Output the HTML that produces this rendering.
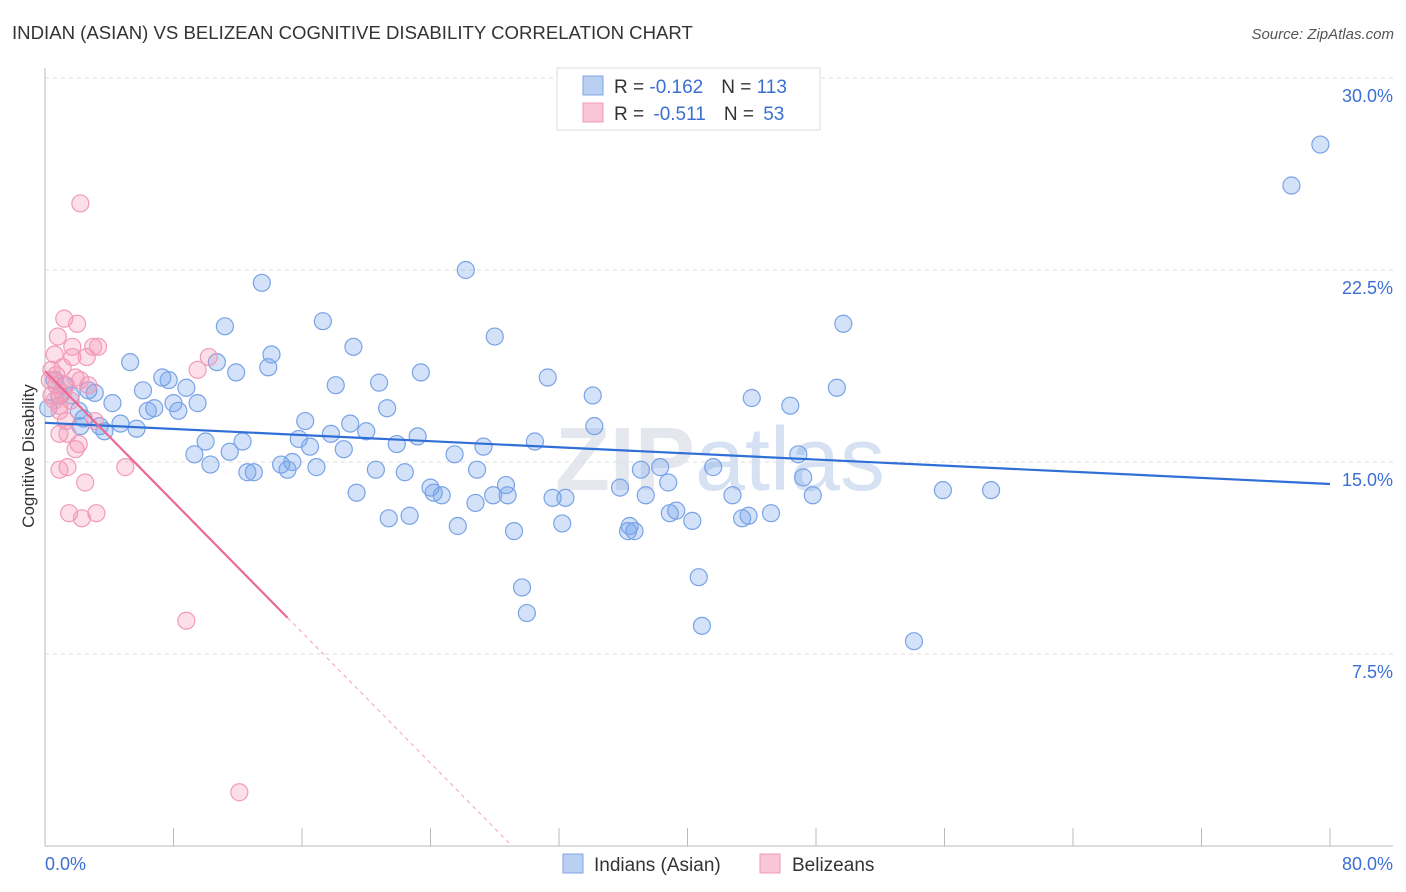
<!DOCTYPE html>
<html><head><meta charset="utf-8"><style>
body{margin:0;background:#fff;font-family:"Liberation Sans",sans-serif;}
svg{display:block}
</style></head><body>
<svg id="chart" width="1406" height="892">
<text x="12" y="39" font-size="18.6" fill="#333">INDIAN (ASIAN) VS BELIZEAN COGNITIVE DISABILITY CORRELATION CHART</text>
<text x="1394" y="39" font-size="15" fill="#555" font-style="italic" text-anchor="end">Source: ZipAtlas.com</text>
<text x="720" y="490" font-size="90" fill="#e4e8ee" text-anchor="middle" font-weight="bold">ZIP<tspan font-weight="normal" fill="#d6e2f3">atlas</tspan></text>
<g id="grid"></g><g id="axes"></g><g id="pts"></g><g id="lines"></g>
<text transform="translate(34,456) rotate(-90)" font-size="17" fill="#333" text-anchor="middle">Cognitive Disability</text>
<text x="45" y="870" font-size="18" fill="#3b6fd1">0.0%</text>
<text x="1393" y="870" font-size="18" fill="#3b6fd1" text-anchor="end">80.0%</text>
<g>
<rect x="557" y="68" width="263" height="62" fill="#fff" stroke="#ddd"/>
<rect x="583" y="76" width="20" height="19" fill="#b9d0f3" stroke="#7fa6e3"/>
<rect x="583" y="103" width="20" height="19" fill="#f8c6d6" stroke="#f09ab7"/>
<text x="614" y="93" font-size="19" fill="#333">R = <tspan fill="#3b6fd1">-0.162</tspan><tspan dx="18">N = </tspan><tspan fill="#3b6fd1">113</tspan></text>
<text x="614" y="120" font-size="19" fill="#333">R = <tspan dx="4" fill="#3b6fd1">-0.511</tspan><tspan dx="18">N = </tspan><tspan dx="4" fill="#3b6fd1">53</tspan></text>
</g>
<g>
<rect x="563" y="854" width="20" height="19" fill="#b9d0f3" stroke="#7fa6e3"/>
<text x="594" y="871" font-size="19" fill="#333">Indians (Asian)</text>
<rect x="760" y="854" width="20" height="19" fill="#f8c6d6" stroke="#f09ab7"/>
<text x="792" y="871" font-size="19" fill="#333">Belizeans</text>
</g>
</svg>
<script>
const yTicks=[7.5,15,22.5,30];
const yTickLabels=["7.5%","15.0%","22.5%","30.0%"];
const xTicks=[0,8,16,24,32,40,48,56,64,72,80];
const blueX=[79.4,77.6,26.2,13.5,17.3,49.7,11.2,28.0,19.2,14.1,5.3,10.7,13.9,11.9,23.4,31.3,7.3,7.7,8.8,18.1,20.8,6.1,2.7,49.3,3.1,34.1,44.0,46.4,4.2,8.0,9.5,6.8,6.4,8.3,21.3,16.2,19.0,4.7,5.7,3.7,17.8,20.0,15.8,21.9,23.2,34.2,10.0,12.3,16.5,18.6,27.3,30.5,9.3,25.5,46.9,11.5,10.3,14.7,15.4,15.1,16.9,13.0,12.6,20.6,22.4,26.9,37.1,38.3,41.6,47.2,38.8,24.0,28.7,24.2,19.4,24.7,27.9,26.8,28.8,31.6,32.4,35.8,37.4,42.8,47.8,55.9,58.9,39.3,38.9,21.4,22.7,25.7,29.2,32.2,36.4,36.7,40.3,43.4,43.8,45.2,36.3,29.7,30.0,40.7,40.9,54.1,0.2,0.6,0.9,1.6,1.2,2.1,2.4,2.2,3.4];
const blueY=[27.4,25.8,22.5,22.0,20.5,20.4,20.3,19.9,19.5,19.2,18.9,18.9,18.7,18.5,18.5,18.3,18.3,18.2,17.9,18.0,18.1,17.8,17.8,17.9,17.7,17.6,17.5,17.2,17.3,17.3,17.3,17.1,17.0,17.0,17.1,16.6,16.5,16.5,16.3,16.2,16.1,16.2,15.9,15.7,16.0,16.4,15.8,15.8,15.6,15.5,15.6,15.8,15.3,15.3,15.3,15.4,14.9,14.9,15.0,14.7,14.8,14.6,14.6,14.7,14.6,14.7,14.7,14.8,14.8,14.4,14.2,14.0,14.1,13.8,13.8,13.7,13.7,13.4,13.7,13.6,13.6,14.0,13.7,13.7,13.7,13.9,13.9,13.1,13.0,12.8,12.9,12.5,12.3,12.6,12.5,12.3,12.7,12.8,12.9,13.0,12.3,10.1,9.1,10.5,8.6,8.0,17.1,18.2,17.6,17.6,18.0,17.0,16.7,16.4,16.4];
const pinkX=[2.2,1.2,2.0,0.8,1.7,3.0,3.3,0.6,1.7,2.6,10.2,9.5,1.1,0.4,1.9,1.3,0.7,0.4,0.9,2.7,0.9,1.4,1.9,2.1,3.1,1.4,0.9,5.0,2.5,1.5,3.2,2.3,8.8,12.1,0.3,0.6,1.1,1.6,2.2,0.7,1.3,0.9];
const pinkY=[25.1,20.6,20.4,19.9,19.5,19.5,19.5,19.2,19.1,19.1,19.1,18.6,18.7,18.6,18.3,18.0,18.0,17.6,17.2,18.0,16.1,16.1,15.5,15.7,16.6,14.8,14.7,14.8,14.2,13.0,13.0,12.8,8.8,2.1,18.2,17.4,17.7,17.4,18.2,18.4,16.6,17.0];
const blueLine=[16.53,14.14];
const pinkLine=[18.55,-0.638];
const pinkSolidEnd=15.1, pinkDashEnd=29;

const X0=45,X1=1330,Y0=846,PX=(X1-X0)/80,PY=25.6;
const sx=v=>X0+v*PX, sy=v=>Y0-v*PY;
const NS="http://www.w3.org/2000/svg";
function mk(p,t,a){const e=document.createElementNS(NS,t);for(const k in a)e.setAttribute(k,a[k]);p.appendChild(e);return e;}
const grid=document.getElementById('grid'),axes=document.getElementById('axes'),pts=document.getElementById('pts'),lines=document.getElementById('lines');
yTicks.forEach((v,i)=>{
 const l=mk(grid,'line',{x1:X0,x2:1393,y1:sy(v),y2:sy(v),stroke:'#ddd','stroke-dasharray':'4,4'});
 
 
 const t=mk(grid,'text',{x:1393,y:sy(v)+24,'font-size':18,fill:'#3b6fd1','text-anchor':'end'});
 t.textContent=yTickLabels[i];
 
 
});
const ya=mk(axes,'line',{x1:X0,x2:X0,y1:68,y2:Y0,stroke:'#bbb'});


const xa=mk(axes,'line',{x1:X0,x2:1393,y1:Y0,y2:Y0,stroke:'#bbb'});


xTicks.forEach(v=>{
 const t=mk(axes,'line',{x1:sx(v),x2:sx(v),y1:828,y2:Y0,stroke:'#bbb'});
 
 
});
blueX.forEach((v,i)=>{
 const c=mk(pts,'circle',{cx:sx(v),cy:sy(blueY[i]),r:8.5,fill:'rgba(110,160,235,0.3)',stroke:'#79a3e6','stroke-width':1.2});
 
 
});
pinkX.forEach((v,i)=>{
 const c=mk(pts,'circle',{cx:sx(v),cy:sy(pinkY[i]),r:8.5,fill:'rgba(245,150,180,0.3)',stroke:'#f29bb8','stroke-width':1.2});
 
 
});
const bl=mk(lines,'line',{x1:sx(0),y1:sy(blueLine[0]),x2:sx(80),y2:sy(blueLine[1]),stroke:'#2f6fd6','stroke-width':2.2});


const pf=x=>pinkLine[0]+pinkLine[1]*x;
const pl=mk(lines,'line',{x1:sx(0),y1:sy(pf(0)),x2:sx(pinkSolidEnd),y2:sy(pf(pinkSolidEnd)),stroke:'#ea6a95','stroke-width':2.2});


const pd=mk(lines,'line',{x1:sx(pinkSolidEnd),y1:sy(pf(pinkSolidEnd)),x2:sx(pinkDashEnd),y2:sy(pf(pinkDashEnd)),stroke:'#f0a0bb','stroke-width':1,'stroke-dasharray':'4,4'});


</script>
</body></html>
